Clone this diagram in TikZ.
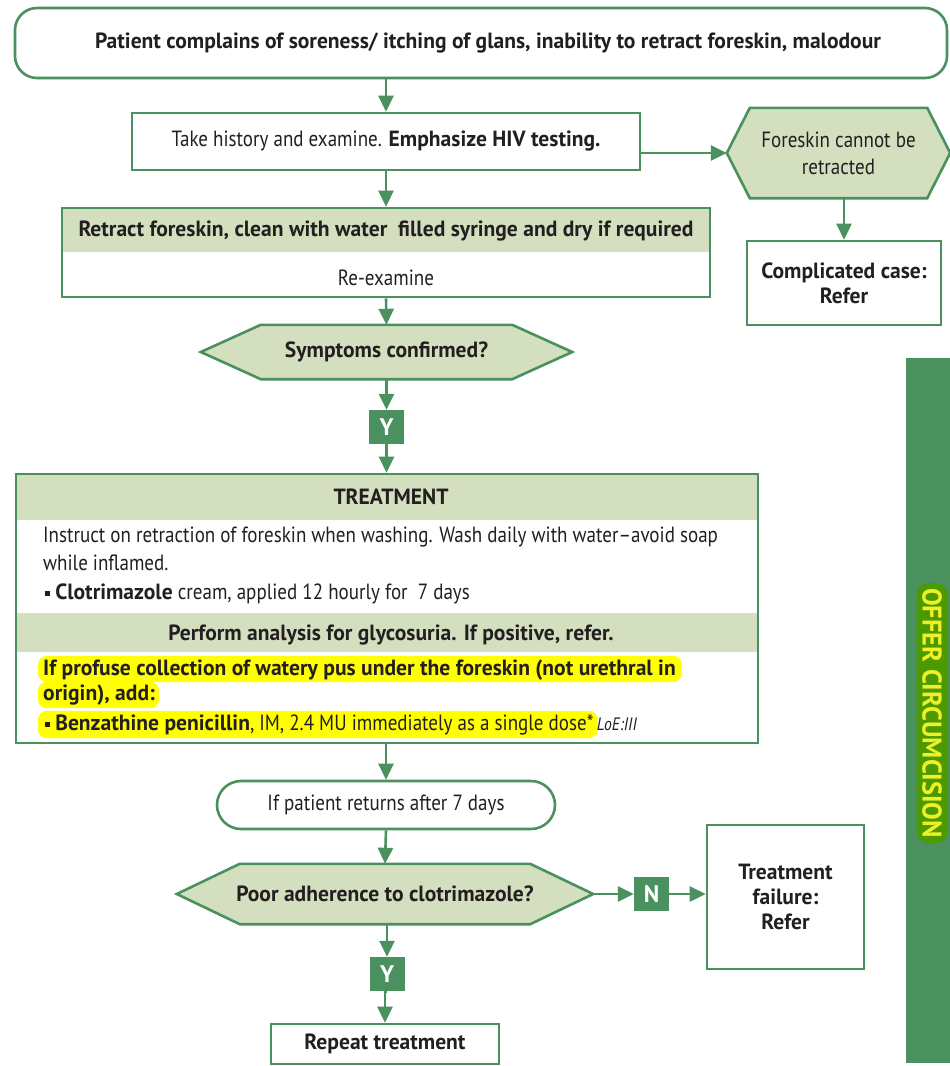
\documentclass[tikz,border=0pt]{standalone}
\usepackage{fontspec}
\setmainfont{PT Sans}[
  UprightFeatures={FakeStretch=0.865},
  BoldFeatures={FakeStretch=0.98},
  ItalicFeatures={FakeStretch=0.865}]
\usetikzlibrary{arrows.meta,backgrounds,calc}
\definecolor{fg}{RGB}{74,145,95}
\definecolor{pale}{RGB}{211,223,190}
\definecolor{ink}{RGB}{35,31,32}
\definecolor{hl}{RGB}{255,255,0}
\definecolor{pillgreen}{RGB}{76,154,0}
\definecolor{sidetext}{RGB}{240,240,40}
\newcommand\fs{\fontsize{22}{27}\selectfont}
\newcommand\sqbullet{\raisebox{3pt}{\rule{5pt}{5pt}}}
% hexagonal decision outline drawn around a (borderless) node
\newcommand\drawhex[2]{%
  \draw[hexfill] (#1.west) -- ($(#1.north west)+(#2,0)$) -- ($(#1.north east)+(-#2,0)$)
    -- (#1.east) -- ($(#1.south east)+(-#2,0)$) -- ($(#1.south west)+(#2,0)$) -- cycle;}
\begin{document}
\begin{tikzpicture}[x=1pt,y=-1pt,
  every node/.style={font=\fs, text=ink, inner sep=0pt},
  frame/.style={draw=fg, line width=2.6pt},
  box/.style={frame, rectangle, align=center},
  roundbox/.style={frame, rounded corners=22pt, align=center},
  hexnode/.style={rectangle, align=center},
  hexfill/.style={draw=fg, line width=2.6pt, fill=pale, line join=miter},
  flag/.style={fill=fg, text=white, font=\fontsize{24}{27}\selectfont\bfseries, minimum width=35pt, minimum height=34pt},
  arr/.style={draw=fg, line width=2.6pt, -{Triangle[length=16pt,width=15pt]}},
  line/.style={anchor=base west, text height=16pt, text depth=5pt},
]
\useasboundingbox (0,0) rectangle (950,1066);
\begin{scope}[on background layer]
  \fill[white] (0,0) rectangle (950,1066);
\end{scope}

% ---- top of the chart
\node[roundbox, minimum width=932pt, minimum height=70pt] (top) at (481,43)
  {\hspace*{14pt}\raisebox{-2pt}{\bfseries Patient complains of soreness/ itching of glans, inability to retract foreskin, malodour}};

\node[box, minimum width=508pt, minimum height=57pt] (hist) at (386,141.5)
  {\raisebox{-2pt}{Take history and examine. \textbf{Emphasize HIV testing.}}};

\node[hexnode, minimum width=223pt, minimum height=90pt, font=\fontsize{22}{27}\selectfont] (hexF) at (838.5,153)
  {Foreskin cannot be\\retracted};
\begin{scope}[on background layer]\drawhex{hexF}{23}\end{scope}

\node[box, minimum width=194pt, minimum height=84pt, font=\fontsize{22}{25}\selectfont\bfseries] (comp) at (844,283)
  {Complicated case:\\Refer};

% ---- retract / re-examine
\node[box, minimum width=648pt, minimum height=89pt] (retract) at (386,252.5) {};
\begin{scope}[on background layer]
  \fill[pale] (retract.north west) rectangle ($(retract.north east)+(0,45)$);
\end{scope}
\node[font=\fs\bfseries] (retracthead) at (386,231)
  {Retract foreskin, clean with water\ \ filled syringe and dry if required};
\node (reexam) at (386,278) {Re-examine};

\node[hexnode, minimum width=371pt, minimum height=54pt, font=\fs\bfseries] (symp) at (386.5,352)
  {Symptoms confirmed?};
\begin{scope}[on background layer]\drawhex{symp}{60}\end{scope}

\node[flag] (y1) at (386.5,427) {Y};

% ---- treatment block
\node[box, minimum width=742pt, minimum height=269pt] (treat) at (387,608.5) {};
\begin{scope}[on background layer]
  \fill[pale] (treat.north west) rectangle ($(treat.north east)+(0,47)$);
  \fill[pale] (treat.west |- 0,613) rectangle (treat.east |- 0,652);
\end{scope}
\node[font=\fs\bfseries, anchor=base] (treathead) at (391,504) {TREATMENT};
\node[line] (t1) at (43,542) {Instruct on retraction of foreskin when washing. Wash daily with water\textendash avoid soap};
\node[line] (t2) at (43,570) {while inflamed.};
\node[line] (t3) at (45,599) {\sqbullet\ \textbf{Clotrimazole} cream, applied 12 hourly for\ \ 7 days};
\node[font=\fs\bfseries, anchor=base] (gly) at (391,640) {Perform analysis for glycosuria. If positive, refer.};
\node[line, font=\fs\bfseries] (h1) at (43,675) {If profuse collection of watery pus under the foreskin (not urethral in};
\node[line, font=\fs\bfseries] (h2) at (43,700) {origin), add:};
\node[line] (h3) at (45,730) {\sqbullet\ \textbf{Benzathine penicillin}, IM, 2.4 MU immediately as a single dose*};
\node[anchor=base west, font=\fontsize{18}{20}\selectfont\itshape] (loe) at ($(h3.base east)+(3,0)$) {LoE:III};
\begin{scope}[on background layer]
  \fill[hl, rounded corners=9pt] ($(h1.north west)+(-5,-3)$) rectangle ($(h1.south east)+(6,2)$);
  \fill[hl, rounded corners=9pt] ($(h2.north west)+(-5,-2)$) rectangle ($(h2.south east)+(4,3)$);
  \fill[hl, rounded corners=9pt] ($(h3.north west)+(-7,-3)$) rectangle ($(h3.south east)+(4,3)$);
\end{scope}

% ---- follow-up
\node[roundbox, rounded corners=24pt, minimum width=338pt, minimum height=48pt] (ret) at (386,805)
  {\raisebox{-2pt}{If patient returns after 7 days}};

\node[hexnode, minimum width=416pt, minimum height=60pt, font=\fs\bfseries] (poor) at (385,894)
  {Poor adherence to clotrimazole?};
\begin{scope}[on background layer]\drawhex{poor}{63}\end{scope}

\node[flag] (n1) at (651.5,894) {N};
\node[box, minimum width=157pt, minimum height=144pt, font=\fontsize{22}{25}\selectfont\bfseries] (fail) at (785.5,897)
  {Treatment\\failure:\\Refer};

\node[flag] (y2) at (387,974) {Y};
\node[box, minimum width=228pt, minimum height=40pt, font=\fs\bfseries] (rep) at (385,1044) {\raisebox{-2pt}{Repeat treatment}};

% ---- side bar
\fill[fg] (906,358) rectangle (950,1063);
\node[rotate=-90, fill=pillgreen, rounded corners=12pt, minimum height=31pt, inner xsep=5pt,
      text=sidetext, font=\fontsize{27}{30}\selectfont\bfseries] (offer) at (932,713) {OFFER CIRCUMCISION};

% ---- connectors
\draw[arr] (top.south -| hist.north) -- (hist.north);
\draw[arr] (hist.east |- hexF.west) -- (hexF.west);
\draw[arr] (hexF.south -| comp.north) -- (comp.north);
\draw[arr] (hist.south) -- (retract.north);
\draw[arr] (retract.south) -- (symp.north);
\draw[arr] (symp.south) -- (y1.north);
\draw[arr] (y1.south) -- (y1.south |- treat.north);
\draw[arr] (treat.south -| ret.north) -- (ret.north);
\draw[arr] (ret.south) -- (poor.north);
\draw[arr] (poor.east) -- (n1.west);
\draw[arr] (n1.east) -- (n1.east -| fail.west);
\draw[arr] (poor.south -| y2.north) -- (y2.north);
\draw[arr] (y2.south) -- (y2.south -| rep.north) -- (rep.north);
\end{tikzpicture}
\end{document}
